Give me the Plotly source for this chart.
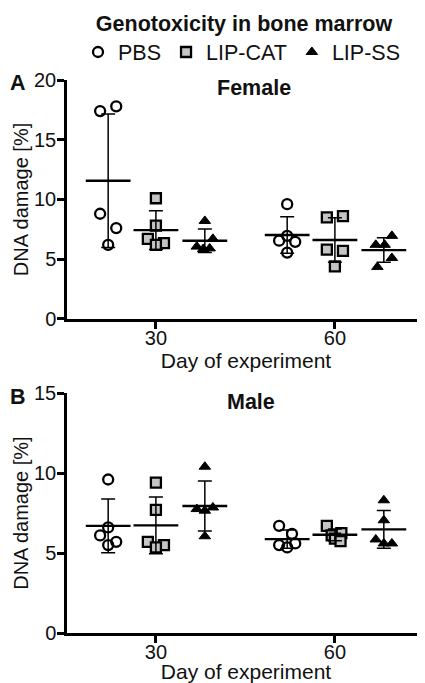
import numpy as np
import plotly.graph_objects as go

# ---------------- data ----------------
days = [30, 60]
groups = ["PBS", "LIP-CAT", "LIP-SS"]

# Female (panel A)
female_pbs_d30 = [17.4, 17.8, 8.8, 7.6, 6.2]
female_pbs_d60 = [9.6, 6.55, 6.95, 6.45, 5.55]
female_cat_d30 = [10.1, 7.8, 6.7, 6.35, 6.2]
female_cat_d60 = [8.5, 8.6, 5.8, 5.7, 4.4]
female_ss_d30 = [8.2, 6.7, 6.05, 5.9, 5.85]
female_ss_d60 = [6.95, 6.2, 6.2, 5.1, 4.35]

# Male (panel B)
male_pbs_d30 = [9.6, 6.6, 6.1, 5.7, 5.5]
male_pbs_d60 = [6.7, 6.2, 5.5, 5.6, 5.35]
male_cat_d30 = [9.4, 7.7, 5.7, 5.5, 5.35]
male_cat_d60 = [6.7, 6.25, 6.1, 5.9, 5.75]
male_ss_d30 = [10.4, 7.75, 7.65, 7.85, 6.05]
male_ss_d60 = [8.3, 7.05, 5.85, 5.6, 5.6]

y_ticks_female = [0, 5, 10, 15, 20]
y_ticks_male = [0, 5, 10, 15]

# horizontal scatter arrangement of points (layout, in units of point spread)
jit_female = {
    ("PBS", 30): [-1, 1, -1, 1, 0], ("PBS", 60): [0, -1, 0, 1, 0],
    ("LIP-CAT", 30): [0, 0, -1, 1, 0], ("LIP-CAT", 60): [-1, 1, -1, 1, 0],
    ("LIP-SS", 30): [0, 1, -1, 0.6, -0.2], ("LIP-SS", 60): [1, -1, 0.1, 1, -0.8],
}
jit_male = {
    ("PBS", 30): [0, 0, -1, 1, 0], ("PBS", 60): [-1, 0.6, -1, 1, 0],
    ("LIP-CAT", 30): [0, 0, -1, 1, 0], ("LIP-CAT", 60): [-1, 0.8, -0.4, 0, 0.7],
    ("LIP-SS", 30): [0, -1, 0, 1, 0], ("LIP-SS", 60): [0, 0, -1, 0, 1],
}

panels = {
    "A": {"pbs": {30: female_pbs_d30, 60: female_pbs_d60},
          "cat": {30: female_cat_d30, 60: female_cat_d60},
          "ss": {30: female_ss_d30, 60: female_ss_d60},
          "jit": jit_female},
    "B": {"pbs": {30: male_pbs_d30, 60: male_pbs_d60},
          "cat": {30: male_cat_d30, 60: male_cat_d60},
          "ss": {30: male_ss_d30, 60: male_ss_d60},
          "jit": jit_male},
}
keymap = {"PBS": "pbs", "LIP-CAT": "cat", "LIP-SS": "ss"}

# ---------------- style ----------------
FONT = "Liberation Sans, Arial, sans-serif"
group_offset = {"PBS": -8.0, "LIP-CAT": 0.0, "LIP-SS": 8.2}
JIT = 1.35
marker_style = {
    "PBS": dict(symbol="circle-open", size=10, color="black", line=dict(width=2.3, color="black")),
    "LIP-CAT": dict(symbol="square", size=10, color="#c4c4c4", line=dict(width=2.3, color="black")),
    "LIP-SS": dict(symbol="triangle-up", size=10, color="black", line=dict(width=1, color="black")),
}

fig = go.Figure()
axes = {"A": ("x", "y"), "B": ("x2", "y2")}

# points
for pname, pdata in panels.items():
    xa, ya = axes[pname]
    for g in groups:
        xs, ys = [], []
        for d in days:
            vals = pdata[keymap[g]][d]
            jit = pdata["jit"][(g, d)]
            for v, j in zip(vals, jit):
                xs.append(d + group_offset[g] + j * JIT)
                ys.append(v)
        fig.add_trace(go.Scatter(
            x=xs, y=ys, mode="markers", name=g, legendgroup=g,
            showlegend=(pname == "A"), marker=marker_style[g],
            xaxis=xa, yaxis=ya, cliponaxis=False, hoverinfo="y"))

# mean +/- SD on top
for pname, pdata in panels.items():
    xa, ya = axes[pname]
    for g in groups:
        mx, my, sd = [], [], []
        for d in days:
            vals = np.array(pdata[keymap[g]][d])
            mx.append(d + group_offset[g])
            my.append(vals.mean())
            sd.append(vals.std(ddof=1))
        fig.add_trace(go.Scatter(
            x=mx, y=my, mode="markers", showlegend=False, legendgroup=g,
            marker=dict(symbol="line-ew", size=32, line=dict(width=2.4, color="black")),
            error_y=dict(type="data", array=sd, symmetric=True, thickness=1.5,
                         width=7, color="black"),
            xaxis=xa, yaxis=ya, cliponaxis=False, hoverinfo="y"))

# ---------------- layout ----------------
# the page body adds an 8px margin, so the figure starts at (8, 8) of the window
OFF = 8
W, H = 425 - OFF, 683 - OFF
ML, MR, MT, MB = 67 - OFF, 0, 80 - OFF, 683 - 633.3
PW = W - ML - MR
PH = H - MT - MB


def px_x(X):
    return (X - OFF - ML) / PW


def px_y(Y):
    return (H - MB - (Y - OFF)) / PH


axis_common = dict(
    showline=True, linecolor="black", linewidth=2.5, ticks="outside", ticklen=7,
    tickwidth=2.5, tickcolor="black", showgrid=False, zeroline=False,
    tickfont=dict(family=FONT, size=20, color="#111"), mirror=False,
)
xtitle_font = dict(family=FONT, size=21, color="#111")
ytitle_font = dict(family=FONT, size=20, color="#111")

domA = [px_y(319), 1.0]
domB = [0.0, px_y(393.3)]

fig.update_layout(
    width=W, height=H,
    margin=dict(l=ML, r=MR, t=MT, b=MB, autoexpand=False),
    paper_bgcolor="white", plot_bgcolor="white",
    font=dict(family=FONT, size=20, color="#111"),
    title=dict(text="<b>Genotoxicity in bone marrow</b>", x=(244 - OFF) / W, xanchor="center",
               y=1 - (23 - OFF) / H, yanchor="middle",
               font=dict(family=FONT, size=21.5, color="#111")),
    showlegend=True,
    legend=dict(orientation="h", x=px_x(78), xanchor="left", y=px_y(52), yanchor="middle",
                font=dict(family=FONT, size=21.5, color="#111"), bgcolor="rgba(0,0,0,0)",
                itemclick=False, itemdoubleclick=False, tracegroupgap=0),
    xaxis=dict(axis_common, domain=[0, 1], anchor="y", range=[15.1, 75.1],
               tickvals=days, ticktext=[str(d) for d in days], ticklabelstandoff=-8,
               title=dict(text="Day of experiment", standoff=0, font=xtitle_font)),
    yaxis=dict(axis_common, domain=domA, anchor="x", range=[0, 20],
               tickvals=y_ticks_female, ticklabelstandoff=-3,
               title=dict(text="DNA damage [%]", standoff=0, font=ytitle_font)),
    xaxis2=dict(axis_common, domain=[0, 1], anchor="y2", range=[15.1, 75.1],
                tickvals=days, ticktext=[str(d) for d in days], ticklabelstandoff=-8,
                title=dict(text="Day of experiment", standoff=0, font=xtitle_font)),
    yaxis2=dict(axis_common, domain=domB, anchor="x2", range=[0, 15],
                tickvals=y_ticks_male, ticklabelstandoff=-3,
                title=dict(text="DNA damage [%]", standoff=0, font=ytitle_font)),
)

ann_font = dict(family=FONT, size=21.5, color="#111")
for txt, X, Y in [("<b>A</b>", 17.5, 83), ("<b>B</b>", 18, 397),
                  ("<b>Female</b>", 253.7, 88), ("<b>Male</b>", 251, 402)]:
    fig.add_annotation(text=txt, x=px_x(X), y=px_y(Y), xref="paper", yref="paper",
                       xanchor="center", yanchor="middle", showarrow=False, font=ann_font)

fig.write_html("out.html")
